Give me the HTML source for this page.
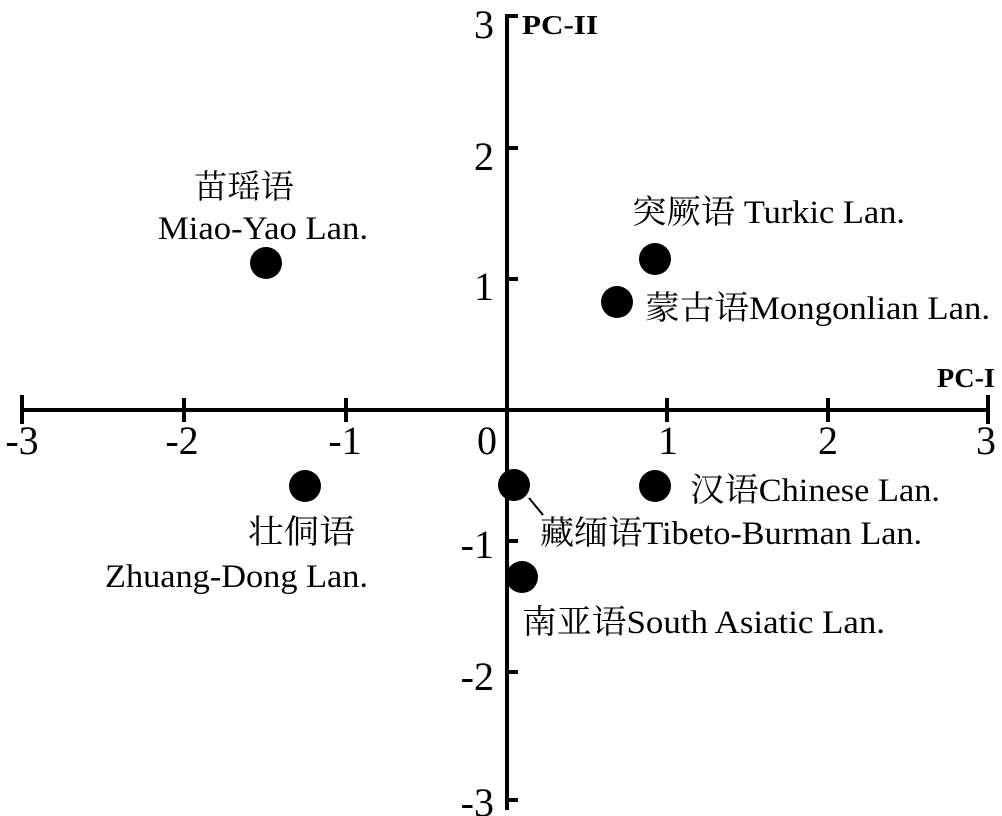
<!DOCTYPE html>
<html><head><meta charset="utf-8"><style>
html,body{margin:0;padding:0;background:#fff;}
svg{display:block;}
text{font-family:"Liberation Serif","Noto Serif CJK SC","Noto Sans CJK SC",serif;fill:#000;}
</style></head><body>
<svg width="1002" height="816" viewBox="0 0 1002 816" xmlns="http://www.w3.org/2000/svg">
<g stroke="#000" stroke-width="4" fill="none">
<line x1="20" y1="410" x2="990" y2="410"/>
<line x1="507" y1="14" x2="507" y2="810"/>
<line x1="22" y1="395" x2="22" y2="424"/>
<line x1="184" y1="398" x2="184" y2="422"/>
<line x1="346" y1="398" x2="346" y2="422"/>
<line x1="667" y1="398" x2="667" y2="422"/>
<line x1="828" y1="398" x2="828" y2="422"/>
<line x1="988" y1="395" x2="988" y2="424"/>
<line x1="507" y1="16" x2="518" y2="16"/>
<line x1="507" y1="148" x2="518" y2="148"/>
<line x1="507" y1="279" x2="518" y2="279"/>
<line x1="507" y1="541" x2="518" y2="541"/>
<line x1="507" y1="672" x2="518" y2="672"/>
<line x1="507" y1="800" x2="518" y2="800"/>
<line x1="529" y1="498" x2="543" y2="515" stroke-width="2"/>
</g>
<g font-size="40" text-anchor="middle">
<text x="22" y="454">-3</text>
<text x="182" y="454">-2</text>
<text x="345" y="454">-1</text>
<text x="487" y="454">0</text>
<text x="668" y="454">1</text>
<text x="828" y="454">2</text>
<text x="986" y="454">3</text>
</g>
<g font-size="40" text-anchor="end">
<text x="494" y="38">3</text>
<text x="494" y="170">2</text>
<text x="494" y="300">1</text>
<text x="494" y="558">-1</text>
<text x="494" y="690">-2</text>
<text x="494" y="816">-3</text>
</g>
<text x="522" y="34" font-size="27" font-weight="bold" textLength="76" lengthAdjust="spacingAndGlyphs">PC-II</text>
<text x="937" y="387" font-size="27" font-weight="bold" textLength="58" lengthAdjust="spacingAndGlyphs">PC-I</text>
<g fill="#000">
<circle cx="266" cy="263" r="16"/>
<circle cx="655" cy="259" r="16"/>
<circle cx="617" cy="302" r="16"/>
<circle cx="305" cy="486" r="16"/>
<circle cx="514" cy="485" r="16"/>
<circle cx="655" cy="486" r="16"/>
<circle cx="522" cy="577" r="16"/>
</g>
<g font-size="33">
<text x="194" y="198" textLength="100" lengthAdjust="spacingAndGlyphs">苗瑶语</text>
<text x="158" y="239" textLength="210" lengthAdjust="spacingAndGlyphs">Miao-Yao Lan.</text>
<text x="632" y="223" textLength="273" lengthAdjust="spacingAndGlyphs">突厥语 Turkic Lan.</text>
<text x="645" y="319" textLength="345" lengthAdjust="spacingAndGlyphs">蒙古语Mongonlian Lan.</text>
<text x="690" y="501" textLength="250" lengthAdjust="spacingAndGlyphs">汉语Chinese Lan.</text>
<text x="540" y="544" textLength="382" lengthAdjust="spacingAndGlyphs">藏缅语Tibeto-Burman Lan.</text>
<text x="248" y="543" textLength="107" lengthAdjust="spacingAndGlyphs">壮侗语</text>
<text x="105" y="587" textLength="263" lengthAdjust="spacingAndGlyphs">Zhuang-Dong Lan.</text>
<text x="522" y="633" textLength="363" lengthAdjust="spacingAndGlyphs">南亚语South Asiatic Lan.</text>
</g>
</svg>
</body></html>
